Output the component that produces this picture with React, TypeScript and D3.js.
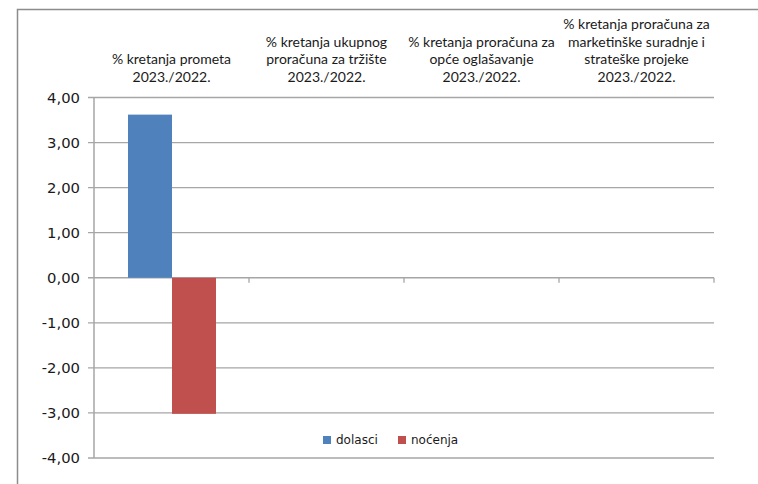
import React from "react";
import * as d3 from "d3";

const categories = [
  "% kretanja prometa 2023./2022.",
  "% kretanja ukupnog proračuna za tržište 2023./2022.",
  "% kretanja proračuna za opće oglašavanje 2023./2022.",
  "% kretanja proračuna za marketinške suradnje i strateške projeke 2023./2022.",
];
const categoryLines = [
  ["% kretanja prometa", "2023./2022."],
  ["% kretanja ukupnog", "proračuna za tržište", "2023./2022."],
  ["% kretanja proračuna za", "opće oglašavanje", "2023./2022."],
  ["% kretanja proračuna za", "marketinške suradnje i", "strateške projeke", "2023./2022."],
];
const seriesNames = ["dolasci", "noćenja"];
const dolasci: (number | null)[] = [3.62, null, null, null];
const nocenja: (number | null)[] = [-3.02, null, null, null];
const seriesColors = ["#4F81BD", "#C0504D"];
const yTicks = [-4, -3, -2, -1, 0, 1, 2, 3, 4];

const W = 758;
const H = 484;
const plot = { left: 94, right: 714, top: 97.5, bottom: 458 };

const locale = d3.formatLocale({
  decimal: ",",
  thousands: ".",
  grouping: [3],
  currency: ["", " kn"],
  minus: "-",
});
const fmt = locale.format(".2f");

export default function App() {
  const x0 = d3.scaleBand<string>().domain(categories).range([plot.left, plot.right]).padding(0);
  const bw = x0.bandwidth();
  const gap = 34;
  const x1 = d3.scaleBand<string>().domain(seriesNames).range([gap, bw - gap + 1]).padding(0);
  const y = d3.scaleLinear().domain([-4, 4]).range([plot.bottom, plot.top]);
  const series = [dolasci, nocenja];
  const grid = "#a6a6a6";
  const catFont = "Lato, 'Open Sans', sans-serif";
  const lh = 17.5;
  const lastBaseline = 81.5;

  return (
    <svg
      width={W}
      height={H}
      style={{ position: "absolute", left: 0, top: 0, background: "#fff" }}
    >
      <rect x={0} y={0} width={W} height={H} fill="#fff" />
      {/* outer border */}
      <path d={`M17.5,${H} L17.5,9.5 L${W},9.5`} fill="none" stroke="#8c8c8c" strokeWidth={1.5} />

      {/* gridlines + y ticks */}
      {yTicks.map((t) => (
        <g key={t}>
          <line x1={plot.left - 6} x2={plot.right} y1={y(t)} y2={y(t)} stroke={grid} strokeWidth={1.3} />
          <text
            x={80}
            y={y(t)}
            dy="0.36em"
            textAnchor="end"
            fontFamily="'DejaVu Sans', Verdana, sans-serif"
            fontSize={14.8}
            fill="#1a1a1a"
          >
            {fmt(t)}
          </text>
        </g>
      ))}

      {/* bars */}
      {categories.map((c, i) => (
        <g key={c}>
          {series.map((s, j) => {
            const v = s[i];
            if (v == null) return null;
            const yy = Math.min(y(v), y(0));
            const hh = Math.abs(y(v) - y(0));
            return (
              <rect
                key={j}
                x={(x0(c) as number) + (x1(seriesNames[j]) as number)}
                y={yy}
                width={x1.bandwidth()}
                height={hh}
                fill={seriesColors[j]}
              />
            );
          })}
        </g>
      ))}

      {/* y axis line */}
      <line x1={plot.left} x2={plot.left} y1={plot.top} y2={plot.bottom} stroke={grid} strokeWidth={1.5} />
      {/* category ticks on zero line */}
      {categories.map((c) => (
        <line
          key={"t" + c}
          x1={(x0(c) as number) + bw}
          x2={(x0(c) as number) + bw}
          y1={y(0)}
          y2={y(0) + 5}
          stroke={grid}
          strokeWidth={1.3}
        />
      ))}

      {/* category labels at top */}
      {categories.map((c, i) => {
        const lines = categoryLines[i];
        const cx = (x0(c) as number) + bw / 2;
        return (
          <text key={"l" + c} textAnchor="middle" fontFamily={catFont} fontSize={14} fill="#1a1a1a">
            {lines.map((ln, k) => (
              <tspan key={k} x={cx} y={lastBaseline - (lines.length - 1 - k) * lh}>
                {ln}
              </tspan>
            ))}
          </text>
        );
      })}

      {/* legend */}
      {seriesNames.map((n, j) => {
        const lx = [323, 398][j];
        return (
          <g key={n}>
            <rect x={lx} y={436} width={8} height={8} fill={seriesColors[j]} />
            <text x={lx + 13} y={444} fontFamily="'DejaVu Sans', Verdana, sans-serif" fontSize={12} fill="#1a1a1a">
              {n}
            </text>
          </g>
        );
      })}
    </svg>
  );
}
